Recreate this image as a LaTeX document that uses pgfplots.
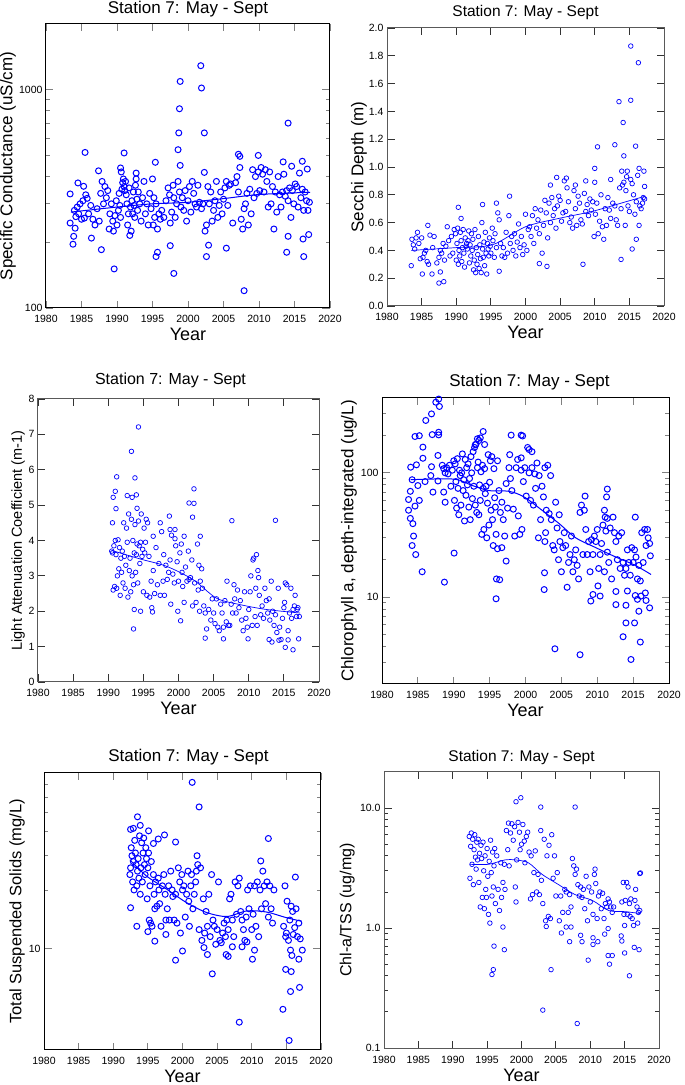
\documentclass[border=0pt]{standalone}
\usepackage{fontspec}
\setmainfont{Liberation Sans}
\usepackage{pgfplots}
\pgfplotsset{compat=1.18}

\pgfplotsset{
  station/.style={
    scale only axis,
    xmin=1980, xmax=2020,
    xtick={1980,1985,...,2020},
    tick align=inside,
    xtick pos=both, ytick pos=both,
    major tick length=7.5pt, minor tick length=4pt,
    axis line style={line width=1pt},
    tick style={line width=0.8pt},
    /pgf/number format/assume math mode=true,
    tick label style={font=\fontsize{10.5}{12}\selectfont},
    x tick label style={/pgf/number format/1000 sep={}, anchor=base, yshift=-15pt},
    every axis title/.style={at={(0.5,1)}, anchor=base, font=\fontsize{17}{18}\selectfont},
    xlabel={Year},
    every axis x label/.style={at={(axis description cs:0.5,0)}, anchor=base, yshift=-33pt, font=\fontsize{18}{18}\selectfont},
    % rotated label: yshift moves it to the left
    every axis y label/.style={at={(axis description cs:0,0.5)}, rotate=90, anchor=south, inner sep=0pt, font=\fontsize{17}{18}\selectfont},
    title={Station 7: May - Sept},
  },
  pts/.style={only marks, mark=o, blue, mark size=3pt, mark options={line width=1pt}},
  ptsthin/.style={only marks, mark=o, blue, mark size=2.3pt, mark options={line width=0.7pt}},
  fit/.style={blue, line width=1pt, smooth, mark=none},
  fitthin/.style={blue, line width=0.7pt, smooth, mark=none},
}

\begin{document}
\begin{tikzpicture}
\path[use as bounding box] (0,0) rectangle (685pt,1085pt);

% ---------------- Specific conductance ----------------
\begin{axis}[station,
  at={(46pt,777pt)}, anchor=south west, width=284pt, height=284pt,
  ymode=log, ymin=100, ymax=2000,
  ytick={100,1000}, yticklabels={100,1000},
  minor ytick={200,300,400,500,600,700,800,900},
  ylabel={Specific Conductance (uS/cm)},
  ylabel style={yshift=30pt},
  title style={yshift=10pt},
]
\addplot[pts] coordinates {
(1983.4,333) (1983.4,245) (1985.5,516) (1983.8,196) (1983.9,213) (1984.1,232) (1984.5,374) (1985.3,361)
(1986.4,209) (1987.4,425) (1987.8,185) (1989.6,151) (1991.0,513) (1990.5,438) (1992.7,415) (1995.4,465)
(1995.5,172) (1995.7,180) (1997.5,193) (1998.0,144) (1998.9,1091) (1998.8,818) (1998.7,634) (1998.6,531)
(1998.9,450) (2001.8,1288) (2001.9,1018) (2002.3,634) (2002.3,418) (2002.6,172) (2002.9,194) (2005.4,188)
(2007.9,120) (2014.1,703) (2013.9,180) (2014.1,213) (2016.3,172) (2016.2,207) (2017.0,217) (2016.1,470)
(2009.9,500) (2007.1,506) (2007.3,495) (2013.4,467) (2014.6,446) (2016.8,433)
(1984.0,280) (1984.2,262) (1984.4,290) (1984.6,270) (1984.8,300) (1985.0,255) (1985.2,310) (1985.4,258)
(1985.6,330) (1985.8,318) (1986.0,270) (1986.3,295) (1986.6,255) (1986.9,240) (1987.2,285) (1987.5,250)
(1987.7,335) (1987.9,380) (1988.1,300) (1988.3,360) (1988.5,320) (1988.7,345) (1988.9,230) (1989.0,270)
(1989.2,300) (1989.4,250) (1989.5,225) (1989.7,265) (1989.9,310) (1990.0,240) (1990.2,280) (1990.3,335)
(1990.4,295) (1990.5,260) (1990.6,420) (1990.7,350) (1990.8,375) (1990.9,390) (1991.0,360) (1991.1,345)
(1991.2,380) (1991.3,330) (1991.4,300) (1991.5,240) (1991.6,270) (1991.7,355) (1991.8,215) (1991.9,290)
(1992.0,225) (1992.1,310) (1992.2,270) (1992.3,340) (1992.4,295) (1992.5,260) (1992.6,365) (1992.7,390)
(1992.8,315) (1992.9,280) (1993.0,340) (1993.2,300) (1993.4,250) (1993.6,320) (1993.8,380) (1994.0,270)
(1994.2,300) (1994.4,240) (1994.6,335) (1994.8,285) (1995.0,390) (1995.1,240) (1995.2,320) (1995.3,260)
(1995.5,300) (1995.7,230) (1995.9,270) (1996.1,255) (1996.3,280) (1996.6,260) (1996.9,310) (1997.2,355)
(1997.4,330) (1997.5,245) (1997.7,275) (1997.9,365) (1998.0,320) (1998.2,260) (1998.4,300) (1998.6,380)
(1998.8,340) (1999.0,290) (1999.2,320) (1999.4,280) (1999.6,345) (1999.8,250) (2000.0,310) (2000.2,360)
(2000.4,275) (2000.6,380) (2000.8,335) (2001.0,300) (2001.2,290) (2001.4,365) (2001.6,305) (2001.9,285)
(2002.1,300) (2002.4,225) (2002.6,240) (2002.8,360) (2003.0,300) (2003.2,340) (2003.4,250) (2003.6,280)
(2003.8,310) (2004.0,380) (2004.2,260) (2004.4,295) (2004.6,340) (2004.8,270) (2005.0,315) (2005.2,355)
(2005.4,380) (2005.6,295) (2005.8,365) (2006.0,370) (2006.3,245) (2006.7,375) (2006.9,400) (2007.1,340)
(2007.3,440) (2007.5,255) (2007.7,230) (2007.9,285) (2008.1,300) (2008.3,335) (2008.5,240) (2008.7,350)
(2008.9,270) (2009.1,430) (2009.3,320) (2009.5,400) (2009.7,335) (2009.9,420) (2010.1,345) (2010.3,440)
(2010.5,410) (2010.7,340) (2010.9,430) (2011.1,380) (2011.3,290) (2011.5,420) (2011.7,300) (2011.9,360)
(2012.1,230) (2012.3,340) (2012.5,275) (2012.7,400) (2012.9,330) (2013.1,290) (2013.3,340) (2013.5,410)
(2013.7,325) (2013.9,345) (2014.1,310) (2014.3,355) (2014.5,260) (2014.7,345) (2014.9,300) (2015.1,370)
(2015.3,360) (2015.5,290) (2015.7,415) (2015.9,320) (2016.1,350) (2016.3,280) (2016.5,340) (2016.7,310)
(2016.9,280) (2017.1,305)
};
\addplot[fit] coordinates {(1983.5,275) (1990,290) (1995,300) (2000,305) (2005,317) (2010,331) (2017.2,339)};
\end{axis}

% ---------------- Secchi depth ----------------
\begin{axis}[station,
  at={(387pt,779pt)}, anchor=south west, width=277pt, height=278pt,
  ymin=0, ymax=2, ytick={0,0.2,...,2.0},
  yticklabel style={/pgf/number format/.cd, fixed, fixed zerofill, precision=1},
  axis line style={draw=black!65}, tick style={draw=black!80},
  ylabel={Secchi Depth (m)},
  ylabel style={yshift=20pt},
  title style={yshift=11pt, font=\fontsize{15.5}{16}\selectfont},
]
\addplot[ptsthin] coordinates {
(1983.5,0.29) (1985.1,0.23) (1986.5,0.23) (1987.5,0.165) (1988.2,0.175) (1987.7,0.245) (1985.9,0.58) (1990.3,0.71)
(1990.7,0.63) (1993.8,0.73) (1995.8,0.74) (1996.2,0.25) (1997.7,0.79) (2002.0,0.305) (2003.1,0.285) (2008.3,0.30)
(2005.9,0.92) (2004.5,0.925) (2007.2,0.87) (2003.6,0.87) (2008.7,0.90) (2010.0,0.99) (2010.0,0.89) (2010.4,1.145)
(2012.9,1.16) (2013.5,1.47) (2014.1,1.32) (2014.2,1.08) (2015.2,1.87) (2015.2,1.48) (2015.9,1.15) (2016.3,1.75)
(2013.8,0.335) (2015.4,0.41) (2016.0,0.48) (2016.4,0.58) (2012.3,0.91) (2013.9,0.97) (2014.7,0.97) (2015.2,0.91)
(2016.4,0.99) (2017.1,0.97) (2017.2,0.86) (2014.0,0.87) (2014.5,0.83)
(1983.6,0.48) (1983.8,0.44) (1984.0,0.41) (1984.2,0.49) (1984.4,0.53) (1984.6,0.45) (1984.8,0.34) (1985.0,0.49)
(1985.2,0.35) (1985.4,0.38) (1985.6,0.40) (1985.8,0.32) (1986.0,0.30) (1986.2,0.51) (1986.6,0.42) (1986.8,0.50)
(1987.2,0.31) (1987.5,0.35) (1987.7,0.40) (1987.9,0.38) (1988.1,0.45) (1988.3,0.33) (1988.5,0.43) (1988.7,0.57)
(1988.9,0.47) (1989.1,0.36) (1989.3,0.50) (1989.5,0.38) (1989.7,0.55) (1989.9,0.52) (1990.0,0.33) (1990.1,0.45)
(1990.2,0.56) (1990.3,0.30) (1990.4,0.40) (1990.5,0.36) (1990.6,0.53) (1990.7,0.47) (1990.8,0.32) (1990.9,0.42)
(1991.0,0.55) (1991.1,0.38) (1991.2,0.28) (1991.3,0.49) (1991.4,0.43) (1991.5,0.45) (1991.6,0.41) (1991.7,0.47)
(1991.8,0.54) (1991.9,0.31) (1992.0,0.44) (1992.1,0.36) (1992.2,0.52) (1992.3,0.40) (1992.4,0.48) (1992.5,0.26)
(1992.6,0.33) (1992.7,0.55) (1992.8,0.24) (1992.9,0.42) (1993.0,0.30) (1993.1,0.37) (1993.2,0.50) (1993.3,0.27)
(1993.4,0.44) (1993.5,0.34) (1993.6,0.24) (1993.7,0.60) (1993.8,0.41) (1993.9,0.35) (1994.0,0.46) (1994.1,0.29)
(1994.2,0.53) (1994.3,0.38) (1994.4,0.23) (1994.5,0.45) (1994.6,0.41) (1994.7,0.36) (1994.8,0.49) (1994.9,0.43)
(1995.0,0.38) (1995.2,0.56) (1995.3,0.47) (1995.5,0.35) (1995.6,0.52) (1995.8,0.42) (1996.0,0.67) (1996.2,0.62)
(1996.4,0.45) (1996.6,0.36) (1996.8,0.42) (1997.0,0.35) (1997.2,0.53) (1997.4,0.38) (1997.6,0.65) (1997.8,0.45)
(1998.0,0.50) (1998.2,0.40) (1998.4,0.52) (1998.6,0.36) (1998.8,0.46) (1999.0,0.59) (1999.2,0.42) (1999.4,0.50)
(1999.6,0.37) (1999.8,0.44) (2000.0,0.66) (2000.2,0.40) (2000.4,0.55) (2000.6,0.57) (2000.8,0.50) (2001.0,0.65)
(2001.2,0.45) (2001.4,0.70) (2001.6,0.56) (2001.8,0.62) (2002.0,0.52) (2002.2,0.69) (2002.4,0.38) (2002.6,0.58)
(2002.8,0.76) (2003.0,0.67) (2003.2,0.49) (2003.4,0.74) (2003.6,0.60) (2003.8,0.78) (2004.0,0.65) (2004.2,0.70)
(2004.4,0.56) (2004.6,0.72) (2004.8,0.79) (2005.0,0.76) (2005.2,0.61) (2005.4,0.67) (2005.6,0.90) (2005.8,0.68)
(2006.0,0.85) (2006.2,0.75) (2006.4,0.60) (2006.6,0.64) (2006.8,0.56) (2007.0,0.83) (2007.2,0.70) (2007.4,0.58)
(2007.6,0.79) (2007.8,0.74) (2008.0,0.62) (2008.2,0.59) (2008.5,0.81) (2008.7,0.68) (2008.9,0.73) (2009.1,0.65)
(2009.3,0.77) (2009.5,0.69) (2009.7,0.75) (2009.9,0.50) (2010.1,0.66) (2010.3,0.74) (2010.5,0.52) (2010.7,0.61)
(2010.9,0.80) (2011.1,0.57) (2011.3,0.48) (2011.5,0.70) (2011.7,0.58) (2011.9,0.78) (2012.1,0.69) (2012.3,0.63)
(2012.6,0.74) (2012.9,0.72) (2013.1,0.62) (2013.3,0.58) (2013.6,0.85) (2013.8,0.70) (2014.2,0.89) (2014.4,0.58)
(2014.6,0.93) (2014.8,0.72) (2015.0,0.68) (2015.4,0.88) (2015.6,0.80) (2015.8,0.66) (2016.0,0.75) (2016.2,0.94)
(2016.5,0.72) (2016.7,0.70) (2016.9,0.74) (2017.0,0.78) (2017.2,0.77)
};
\addplot[fitthin] coordinates {(1983.5,0.40) (1990,0.42) (1995.2,0.44) (2000,0.57) (2004.8,0.63) (2009.6,0.68) (2014.5,0.75) (2017.3,0.79)};
\end{axis}

% ---------------- Light attenuation ----------------
\begin{axis}[station,
  at={(38pt,403pt)}, anchor=south west, width=281pt, height=283pt,
  ymin=0, ymax=8, ytick={0,1,...,8},
  axis line style={draw=black!65}, tick style={draw=black!80},
  ylabel={Light Attenuation Coefficient (m-1)},
  ylabel style={yshift=13pt, font=\fontsize{14.5}{15}\selectfont},
  title style={yshift=14pt, xshift=-8pt, font=\fontsize{16}{16}\selectfont},
]
\addplot[ptsthin] coordinates {
(1994.3,7.21) (1993.3,6.52) (1991.2,5.80) (1993.8,5.77) (1991.0,5.39) (1990.7,5.22) (1991.1,4.90) (1990.6,4.50)
(1992.7,5.27) (1993.4,5.22) (1994.0,5.29) (1994.1,4.91) (2001.5,5.06) (2002.2,5.05) (2002.2,5.46) (2002.0,4.66)
(2007.6,4.56) (2013.8,4.57) (1993.6,1.50) (1993.7,2.05) (1994.6,2.00) (2000.3,1.73) (2003.8,1.24) (2006.4,1.22)
(2009.9,1.22) (2012.9,1.20) (2013.3,1.13) (2014.3,1.18) (2015.2,0.98) (2015.6,1.19) (2016.3,0.91) (2017.1,1.22)
(1998.7,4.69) (1997.4,4.50) (1998.8,4.31) (1999.5,4.31) (2003.1,4.12) (2000.8,4.12) (1996.4,4.12)
(1990.5,3.7) (1990.6,3.65) (1990.7,2.6) (1990.8,3.85) (1990.9,2.7) (1991.0,4.0) (1991.1,3.6) (1991.2,2.65)
(1991.3,3.0) (1991.4,4.02) (1991.5,3.2) (1991.6,3.8) (1991.7,2.45) (1991.8,3.5) (1991.9,3.1) (1992.0,3.7)
(1992.1,2.8) (1992.2,4.5) (1992.3,3.55) (1992.4,2.65) (1992.5,3.3) (1992.6,4.35) (1992.7,3.95) (1992.8,2.4)
(1992.9,4.75) (1993.0,3.15) (1993.1,3.5) (1993.2,2.55) (1993.3,4.6) (1993.4,3.0) (1993.5,4.0) (1993.6,2.75)
(1993.7,3.65) (1993.8,4.45) (1993.9,3.1) (1994.0,3.6) (1994.1,3.9) (1994.2,2.8) (1994.3,4.55) (1994.4,3.85)
(1994.5,3.35) (1994.6,3.95) (1994.7,4.75) (1994.8,3.55) (1994.9,3.75) (1995.0,2.55) (1995.1,4.35) (1995.2,3.65)
(1995.3,3.95) (1995.4,4.6) (1995.5,2.45) (1995.6,4.5) (1995.8,3.55) (1995.9,2.4) (1996.1,2.85) (1996.2,2.1)
(1996.3,1.98) (1996.4,3.15) (1996.6,2.5) (1996.8,3.8) (1997.0,2.75) (1997.2,3.35) (1997.4,2.45) (1997.6,4.25)
(1997.8,2.85) (1997.9,3.6) (1998.0,2.45) (1998.2,3.3) (1998.4,2.9) (1998.6,3.1) (1998.8,3.45) (1998.9,2.2)
(1999.0,4.15) (1999.2,3.05) (1999.4,2.8) (1999.5,4.05) (1999.6,3.85) (1999.8,3.4) (1999.9,2.0) (2000.0,2.85)
(2000.2,3.65) (2000.4,3.9) (2000.5,3.1) (2000.6,2.7) (2000.8,2.25) (2001.0,3.25) (2001.2,2.85) (2001.4,3.7)
(2001.5,2.9) (2001.7,2.95) (2001.9,3.45) (2002.0,2.15) (2002.3,2.8) (2002.5,2.25) (2002.7,3.9) (2002.8,2.6)
(2002.9,3.3) (2003.0,2.0) (2003.1,2.85) (2003.3,3.2) (2003.4,2.65) (2003.6,2.15) (2003.8,1.95) (2004.0,1.5)
(2004.3,2.05) (2004.6,1.75) (2004.8,2.35) (2005.0,1.95) (2005.2,1.65) (2005.4,2.35) (2005.6,1.55) (2005.8,1.45)
(2006.0,2.2) (2006.2,1.95) (2006.4,1.55) (2006.6,2.3) (2006.8,1.7) (2006.9,2.85) (2007.1,1.6) (2007.3,1.6)
(2007.5,2.2) (2007.7,1.95) (2007.9,2.75) (2008.0,2.35) (2008.2,1.95) (2008.4,2.6) (2008.6,2.1) (2008.8,2.3)
(2009.0,1.75) (2009.2,1.45) (2009.4,2.55) (2009.6,1.8) (2009.8,1.55) (2010.0,2.05) (2010.2,2.55) (2010.3,3.0)
(2010.5,1.6) (2010.6,3.45) (2010.7,3.5) (2010.9,1.85) (2011.0,2.65) (2011.1,3.6) (2011.2,1.6) (2011.3,3.15)
(2011.4,2.95) (2011.5,2.45) (2011.7,1.9) (2011.9,2.15) (2012.1,1.8) (2012.3,2.65) (2012.5,2.3) (2012.7,1.95)
(2012.9,2.35) (2013.0,1.75) (2013.2,2.85) (2013.4,2.0) (2013.6,1.6) (2013.8,1.9) (2014.0,1.4) (2014.2,2.65)
(2014.4,1.55) (2014.6,1.2) (2014.8,1.8) (2015.0,2.1) (2015.1,2.25) (2015.2,2.8) (2015.4,2.75) (2015.6,1.45)
(2015.8,1.95) (2016.0,2.65) (2016.1,1.8) (2016.3,2.05) (2016.5,2.15) (2016.6,2.45) (2016.8,1.85) (2016.9,2.05)
(2017.0,2.1) (2017.2,1.85)
};
\addplot[fitthin] coordinates {(1990.5,3.72) (1994.5,3.48) (1998.3,3.27) (2002.1,2.89) (2005.4,2.37) (2008.7,2.19) (2012.5,2.05) (2017.3,1.95)};
\end{axis}

% ---------------- Chlorophyll a ----------------
\begin{axis}[station,
  at={(382pt,401pt)}, anchor=south west, width=287pt, height=286pt,
  ymode=log, ymin=2, ymax=400,
  ytick={10,100}, yticklabels={10,100},
  minor ytick={3,4,5,6,7,8,9,20,30,40,50,60,70,80,90,200,300},
  ylabel={Chlorophyll a, depth-integrated (ug/L)},
  ylabel style={yshift=25pt},
  title style={yshift=11pt, xshift=4pt},
]
\addplot[pts] coordinates {
(1987.9,392) (1987.5,370) (1988.0,342) (1986.9,298) (1986.1,264) (1984.6,196) (1985.2,199) (1987.0,203)
(1987.9,212) (1987.9,202) (1985.7,161) (1987.8,138) (1984.0,111) (1984.8,116) (1985.7,131) (1986.9,112)
(1984.2,88) (1986.0,85) (1986.8,95) (1987.8,86) (1983.7,61) (1983.95,71) (1983.7,50) (1983.95,43)
(1984.3,39) (1984.4,31) (1984.2,26) (1984.7,22) (1985.2,60) (1985.0,79) (1984.6,54) (1985.6,16)
(1988.7,13.2) (1990.05,22.6) (1988.8,58) (1988.6,70) (1987.1,70) (1995.9,9.7) (1995.95,14) (1996.4,13.8)
(1996.1,24.5) (1996.7,25) (1997.3,19.5) (1994.1,215) (1993.5,182) (1993.7,191) (1993.3,188) (1993.0,168)
(1994.3,169) (1998.0,201) (1999.4,201) (1999.6,198) (1999.4,132) (1997.8,140) (2000.5,154) (2000.9,148)
(2002.7,28) (2002.8,33) (2002.65,15.7) (2002.6,11.5) (2004.1,3.84) (2007.6,3.44) (2014.7,3.15) (2013.6,4.8)
(2014.0,6.2) (2015.2,6.2) (2016.0,4.35) (2014.0,8.6) (2012.6,8.7) (2015.8,7.7) (2017.3,8.2) (2009.1,9.3)
(2009.4,10.5) (2010.4,10.2) (2010.1,12.3) (2012.6,11.1) (2014.2,11.2) (2015.3,10.3) (2015.6,9.6) (2016.1,10.2)
(2016.7,10.8) (2016.8,9.4) (2011.4,74) (2011.3,64) (2008.3,65) (2011.0,50) (2011.1,44) (2011.4,43)
(2015.3,44) (2004.7,46)
(1988.4,115) (1988.6,108) (1988.8,100) (1989.0,110) (1989.2,98) (1989.4,115) (1989.6,78) (1989.8,105)
(1990.0,125) (1990.1,60) (1990.2,118) (1990.3,85) (1990.4,52) (1990.5,130) (1990.6,75) (1990.7,46)
(1990.8,105) (1990.9,95) (1991.0,55) (1991.1,100) (1991.2,142) (1991.3,72) (1991.4,88) (1991.5,41)
(1991.6,128) (1991.7,66) (1991.8,110) (1991.9,80) (1992.0,118) (1992.1,53) (1992.2,90) (1992.3,42)
(1992.4,135) (1992.5,100) (1992.6,62) (1992.7,148) (1992.8,78) (1992.9,160) (1993.0,55) (1993.1,170)
(1993.2,48) (1993.3,110) (1993.4,122) (1993.5,46) (1993.6,80) (1993.7,60) (1993.8,102) (1993.9,32)
(1994.0,115) (1994.1,75) (1994.2,35) (1994.3,108) (1994.4,68) (1994.5,78) (1994.6,30) (1994.7,57)
(1994.8,140) (1994.9,38) (1995.0,84) (1995.1,125) (1995.2,50) (1995.3,135) (1995.4,42) (1995.5,26)
(1995.6,108) (1995.7,63) (1995.8,53) (1995.9,32) (1996.1,125) (1996.3,72) (1996.5,48) (1996.7,58)
(1996.9,42) (1997.1,31) (1997.3,82) (1997.5,52) (1997.7,110) (1997.9,90) (1998.1,72) (1998.3,51)
(1998.5,31) (1998.7,110) (1998.9,128) (1999.0,45) (1999.2,32) (1999.4,105) (1999.5,35) (1999.7,85)
(1999.9,110) (2000.1,65) (2000.3,160) (2000.5,100) (2000.7,60) (2000.9,110) (2001.1,55) (2001.3,98)
(2001.4,75) (2001.6,120) (2001.8,30) (2001.9,95) (2002.1,42) (2002.3,78) (2002.5,64) (2002.7,110)
(2002.9,50) (2003.1,115) (2003.3,47) (2003.5,95) (2003.6,42) (2003.8,26) (2004.0,24) (2004.2,58)
(2004.4,36) (2004.6,20) (2004.8,28) (2005.0,16) (2005.2,25) (2005.4,33) (2005.6,26) (2005.8,12)
(2006.0,19) (2006.2,22) (2006.4,31) (2006.6,16) (2006.8,20) (2007.0,24) (2007.2,18) (2007.4,14)
(2007.6,48) (2007.8,55) (2008.0,22) (2008.2,50) (2008.4,35) (2008.6,22) (2008.8,28) (2009.0,16)
(2009.2,29) (2009.4,22) (2009.6,31) (2009.8,28) (2010.0,35) (2010.2,17) (2010.4,22) (2010.6,27)
(2010.8,38) (2011.0,16) (2011.2,34) (2011.4,23) (2011.6,19) (2011.8,36) (2012.0,14) (2012.2,44)
(2012.4,33) (2012.6,28) (2012.8,20) (2013.0,31) (2013.2,17) (2013.4,33) (2013.6,19) (2013.8,15)
(2014.0,17) (2014.2,24) (2014.4,19) (2014.6,15) (2014.8,25) (2015.0,19) (2015.2,24) (2015.4,21)
(2015.6,14) (2015.8,18) (2016.0,13.5) (2016.2,33) (2016.4,19) (2016.6,35) (2016.8,26) (2017.0,35)
(2017.1,30) (2017.3,27) (2017.4,21.5)
};
\addplot[fit] coordinates {(1984,88) (1990,89) (1992.6,79) (1994.9,72) (1997.7,71) (1999.8,64) (2002.3,50) (2004.7,39) (2007,30) (2009.8,25) (2012.6,21) (2015.3,18) (2017.5,15.2)};
\end{axis}

% ---------------- Total suspended solids ----------------
\begin{axis}[station,
  at={(44pt,35pt)}, anchor=south west, width=277pt, height=277pt,
  ymode=log, ymin=3, ymax=80,
  ytick={10}, yticklabels={10},
  minor ytick={20,30,40,50,60,70},
  ylabel={Total Suspended Solids (mg/L)},
  ylabel style={yshift=19pt, font=\fontsize{16.5}{17}\selectfont},
  title style={yshift=11pt, xshift=6pt},
]
\addplot[pts] coordinates {
(2001.4,71.6) (2002.4,53.5) (1993.5,47.6) (2012.4,36.8) (1999.0,35.3) (1993.4,13.0) (1995.0,12.2) (1996.0,10.9)
(1997.6,11.8) (1999.0,8.7) (2000.0,9.7) (2004.3,7.4) (2008.2,4.17) (2014.5,4.86) (2015.4,3.36) (2014.9,7.8)
(2015.7,7.6) (2015.6,6.0) (2016.9,6.3) (2016.8,8.8) (2017.3,9.8) (2015.6,9.8) (2015.8,9.2) (2006.6,9.1)
(2006.3,9.3) (2007.2,10.2) (2003.1,10.1) (2003.6,9.3) (2008.6,10.2) (2009.3,10.8) (2010.1,8.8) (2010.4,9.8)
(1992.5,16.2) (1992.5,41) (1992.9,41.5) (1993.9,43) (1995.1,40.3) (1997.4,38.4) (1996.5,36.6) (1995.8,34.7)
(2002.1,30) (2016.3,23.3) (2011.3,28.2)
(1992.4,24) (1992.5,26) (1992.6,33) (1992.7,30) (1992.8,22) (1992.9,28) (1993.0,20) (1993.1,36)
(1993.2,31) (1993.3,27) (1993.4,21) (1993.5,25) (1993.6,29) (1993.7,23) (1993.8,38) (1993.9,19)
(1994.0,26) (1994.1,35) (1994.2,22) (1994.3,31) (1994.4,37) (1994.5,27) (1994.6,24) (1994.7,33)
(1994.8,29) (1994.9,18) (1995.0,26) (1995.1,31) (1995.2,14) (1995.3,21) (1995.4,13.5) (1995.5,28)
(1995.6,13) (1995.8,24) (1995.9,19) (1996.0,16) (1996.1,22) (1996.3,16.5) (1996.5,23) (1996.6,20)
(1996.7,17) (1996.9,13) (1997.1,21) (1997.3,24) (1997.5,19) (1997.6,14) (1997.8,16) (1998.0,21)
(1998.1,14) (1998.3,25) (1998.5,20) (1998.6,18.5) (1998.8,14) (1999.0,19) (1999.2,13.5) (1999.4,26)
(1999.6,22) (1999.7,12) (1999.9,24) (2000.0,20) (2000.2,21) (2000.4,14.5) (2000.6,19) (2000.8,25)
(2000.9,17.5) (2001.0,13) (2001.2,21) (2001.3,24) (2001.5,16) (2001.7,19) (2001.9,22) (2002.0,25)
(2002.2,27) (2002.4,12.5) (2002.6,26) (2002.8,11) (2003.0,18) (2003.2,12) (2003.4,15.5) (2003.6,13)
(2003.8,19) (2004.0,11.5) (2004.2,24) (2004.4,14) (2004.6,13) (2004.8,10.5) (2005.0,12.5) (2005.2,22)
(2005.4,11) (2005.6,10.7) (2005.8,12) (2006.0,13.5) (2006.2,11.5) (2006.4,14) (2006.6,12.5) (2006.8,18)
(2007.0,19) (2007.2,14) (2007.4,11.5) (2007.6,22) (2007.8,15) (2008.0,21) (2008.2,23) (2008.4,15.5)
(2008.6,14) (2008.8,12.5) (2009.0,11) (2009.2,14.5) (2009.4,20) (2009.6,16) (2009.8,21) (2010.0,12.5)
(2010.2,15) (2010.4,21) (2010.6,13) (2010.8,22) (2011.0,11.5) (2011.2,20) (2011.4,16) (2011.6,25)
(2011.8,21) (2012.0,17) (2012.2,22) (2012.4,14.5) (2012.6,21) (2012.8,16) (2013.0,13.5) (2013.2,20)
(2014.6,13) (2014.8,21) (2014.9,11.5) (2015.0,12) (2015.1,17.5) (2015.3,11) (2015.5,14) (2015.7,16.5)
(2015.9,15.5) (2016.0,11.8) (2016.2,12.8) (2016.4,16) (2016.6,11.5) (2016.8,13.5) (2017.0,11.2)
};
\addplot[fit] coordinates {(1992.4,28.6) (1994.8,23.6) (1997.7,20.2) (2000.6,17.2) (2003.5,15.3) (2006.4,14.6) (2009.3,15.6) (2012.1,15.4) (2015,14.4) (2017.2,13.8)};
\end{axis}

% ---------------- Chl-a / TSS ----------------
\begin{axis}[station,
  at={(384pt,37pt)}, anchor=south west, width=275pt, height=276pt,
  ymode=log, ymin=0.1, ymax=20,
  ytick={0.1,1,10}, yticklabels={0.1,1.0,10.0},
  minor ytick={0.2,0.3,0.4,0.5,0.6,0.7,0.8,0.9,2,3,4,5,6,7,8,9},
  axis line style={draw=black!65}, tick style={draw=black!80},
  ylabel={Chl-a/TSS (ug/mg)},
  ylabel style={yshift=29pt, font=\fontsize{16}{16}\selectfont},
  title style={yshift=10pt, font=\fontsize{15.5}{16}\selectfont},
]
\addplot[ptsthin] coordinates {
(1999.2,11.3) (1999.9,12.2) (2002.8,10.2) (2007.8,10.2) (2003.1,0.207) (2008.1,0.16) (1996.0,0.707) (1995.9,0.45)
(1995.7,0.41) (1997.5,0.66) (2004.3,0.45) (2009.7,0.54) (2012.8,0.50) (2012.6,0.59) (2013.2,0.59) (2015.0,0.62)
(2015.7,0.40) (2016.4,0.69) (2017.1,0.66) (1997.3,1.02) (2006.5,1.02) (2007.2,1.02) (2003.6,1.03) (2005.8,0.91)
(2007.0,0.77) (2008.6,0.87) (2008.8,0.77) (2010.4,0.83) (2010.4,0.73) (2011.1,0.77) (2012.1,0.89) (2012.6,0.99)
(2014.5,0.86) (2014.6,0.78) (2017.2,2.85) (2017.3,2.88)
(1992.4,5.8) (1992.5,2.6) (1992.6,4.8) (1992.7,6.2) (1992.8,3.4) (1992.9,5.5) (1993.0,2.3) (1993.1,4.5)
(1993.2,6.0) (1993.3,3.9) (1993.4,3.1) (1993.5,5.2) (1993.6,3.7) (1993.7,5.5) (1993.8,2.4) (1993.9,4.2)
(1994.0,1.5) (1994.1,4.9) (1994.2,3.8) (1994.3,1.8) (1994.4,5.2) (1994.5,3.0) (1994.6,1.45) (1994.7,4.0)
(1994.8,2.1) (1994.9,1.8) (1995.0,4.6) (1995.1,2.7) (1995.2,1.3) (1995.3,3.6) (1995.4,1.1) (1995.5,5.4)
(1995.6,2.9) (1995.7,1.85) (1995.8,4.3) (1995.9,2.2) (1996.0,3.3) (1996.1,4.6) (1996.2,1.6) (1996.4,4.0)
(1996.6,2.1) (1996.8,1.4) (1997.0,3.5) (1997.1,1.8) (1997.3,2.4) (1997.5,3.4) (1997.6,2.1) (1997.8,6.5)
(1998.0,4.5) (1998.1,7.5) (1998.2,3.3) (1998.4,6.2) (1998.6,7.4) (1998.8,5.4) (1999.0,7.0) (1999.1,2.2)
(1999.2,1.65) (1999.3,3.7) (1999.5,7.6) (1999.7,6.3) (1999.8,4.5) (2000.0,5.0) (2000.2,7.3) (2000.4,5.3)
(2000.5,3.5) (2000.7,5.8) (2000.9,6.3) (2001.1,4.3) (2001.3,1.75) (2001.4,4.0) (2001.6,1.9) (2001.8,2.9)
(2002.0,4.4) (2002.2,2.0) (2002.4,2.8) (2002.6,1.9) (2002.8,6.5) (2002.9,2.5) (2003.1,1.6) (2003.3,5.5)
(2003.5,1.15) (2003.7,4.0) (2003.9,1.25) (2004.0,4.9) (2004.2,1.2) (2004.4,6.0) (2004.6,2.6) (2004.8,4.0)
(2005.0,1.85) (2005.2,2.9) (2005.5,1.15) (2005.7,1.85) (2006.0,1.35) (2006.3,2.1) (2006.5,2.0) (2006.8,1.35)
(2007.0,1.9) (2007.2,1.5) (2007.4,3.8) (2007.6,3.3) (2007.8,2.8) (2008.0,3.1) (2008.2,2.3) (2008.4,1.85)
(2008.6,2.2) (2008.8,1.8) (2009.0,2.1) (2009.2,1.45) (2009.4,2.7) (2009.6,1.15) (2009.8,2.2) (2010.0,1.65)
(2010.2,2.0) (2010.4,1.3) (2010.6,2.8) (2010.7,3.1) (2010.8,2.35) (2011.0,1.2) (2011.2,1.85) (2011.4,2.0)
(2011.6,1.45) (2011.8,1.95) (2012.0,1.2) (2012.2,1.6) (2012.4,1.5) (2012.6,1.75) (2012.8,1.65) (2013.0,1.5)
(2013.2,1.35) (2013.4,1.5) (2014.6,1.65) (2014.8,2.4) (2014.9,1.3) (2015.0,1.05) (2015.1,1.7) (2015.3,2.4)
(2015.4,1.3) (2015.5,2.2) (2015.7,1.6) (2015.8,1.25) (2015.9,1.75) (2016.1,1.2) (2016.3,1.05) (2016.5,1.7)
(2016.6,2.1) (2016.8,1.5) (2016.9,1.1) (2017.0,1.35) (2017.2,1.4)
};
\addplot[fitthin] coordinates {(1992.5,3.4) (1995.2,3.4) (1997.6,3.7) (1999.1,3.7) (2001,3.5) (2003,2.8) (2005.4,2.3) (2007.8,1.9) (2010.3,1.7) (2012.7,1.4) (2015.1,1.37) (2017.3,1.32)};
\end{axis}
\end{tikzpicture}
\end{document}
